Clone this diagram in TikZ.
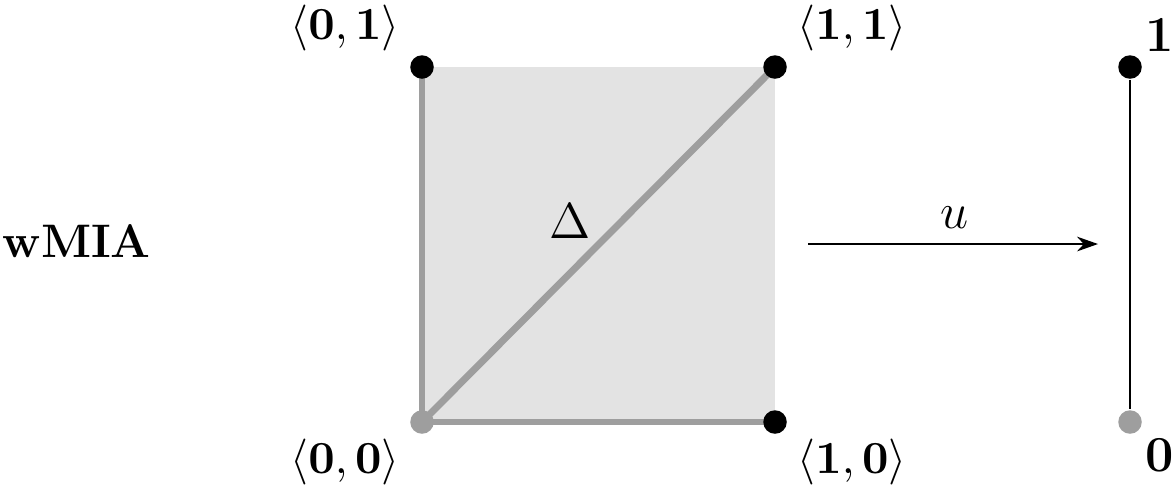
\documentclass[tikz,border=0pt]{standalone}
\usetikzlibrary{arrows.meta}
\definecolor{lgray}{gray}{0.89}
\definecolor{mgray}{gray}{0.62}
\begin{document}
\begin{tikzpicture}[x=0.2381pt,y=-0.2381pt,
  dotb/.style={circle,fill=black,inner sep=0pt,minimum size=5.6pt},
  dotg/.style={circle,fill=mgray,inner sep=0pt,minimum size=5.6pt},
  edge/.style={mgray,line width=1.65pt},
  lbl/.style={inner sep=0pt},
  mid/.style={font=\fontsize{11.2}{13}\selectfont}]
\useasboundingbox (0,0) rectangle (1174,489);
\fill[lgray] (422,67) rectangle (775,422);
\coordinate (a00) at (422,422);
\coordinate (a01) at (422,67);
\coordinate (a10) at (775,422);
\coordinate (a11) at (775,67);
\draw[edge] (a01) -- (a00) -- (a10);
\draw[edge] (a00) -- (a11);
\node[dotb] (n01) at (a01) {};
\node[dotb] (n11) at (a11) {};
\node[dotb] (n10) at (a10) {};
\node[dotg] (n00) at (a00) {};
\node[dotb] (r1) at (1130,67) {};
\node[dotg] (r0) at (1130,422) {};
\draw[line width=0.5pt] (r1) -- (r0);
\node[lbl,mid] (l01) at (345,28) {$\langle\mathbf{0,1}\rangle$};
\node[lbl,mid] (l11) at (852,28) {$\langle\mathbf{1,1}\rangle$};
\node[lbl,mid] (l00) at (345,462) {$\langle\mathbf{0,0}\rangle$};
\node[lbl,mid] (l10) at (852,462) {$\langle\mathbf{1,0}\rangle$};
\node[lbl,font=\large] (t1) at (1160,35) {$\mathbf{1}$};
\node[lbl,font=\large] (t0) at (1160,455) {$\mathbf{0}$};
\node[lbl,mid,anchor=base west] (w) at (2,257) {\textbf{wMIA}};
\node[lbl,font=\large] (d) at (570,221) {$\Delta$};
\coordinate (as) at (808,244);
\coordinate (ae) at (1098,244);
\draw[-{Stealth[length=5pt,width=3.5pt]},line width=0.45pt] (as) -- (ae);
\node[lbl,font=\large] (u) at (955,218) {$u$};
\end{tikzpicture}
\end{document}
